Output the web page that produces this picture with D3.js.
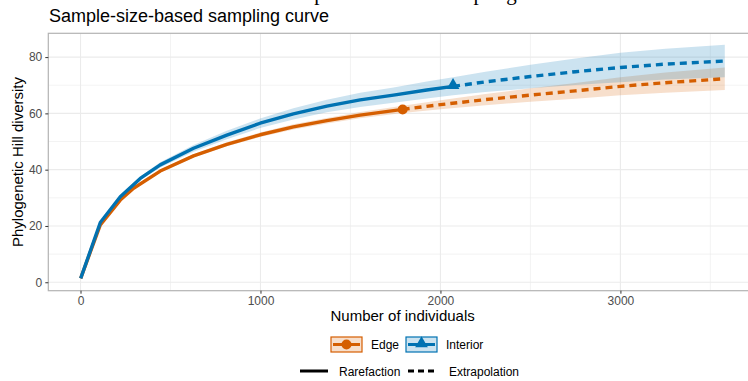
<!DOCTYPE html>
<html>
<head>
<meta charset="utf-8">
<script src="https://cdn.jsdelivr.net/npm/d3@7"></script>
<style>
  body { margin: 0; background: #fff; }
  text { font-family: "Liberation Sans", Arial, sans-serif; }
</style>
</head>
<body>
<svg id="chart" width="748" height="381"></svg>
<script>
// sample sizes and estimates
var edgeN   = [1, 110, 221, 295, 443, 628, 813, 998, 1183, 1369, 1554, 1790, 2000, 2250, 2500, 2750, 3000, 3250, 3580];
var edgeQD  = [1.4, 20.4, 29.2, 33.4, 39.5, 44.9, 49.0, 52.4, 55.2, 57.4, 59.4, 61.4, 63.1, 64.9, 66.5, 68.0, 69.6, 70.9, 72.3];
var edgeLCL = [1.4, 20.2, 28.9, 33.0, 39.0, 44.3, 48.3, 51.6, 54.3, 56.4, 58.3, 60.1, 61.5, 62.9, 64.1, 65.2, 66.4, 67.3, 68.3];
var edgeUCL = [1.4, 20.6, 29.5, 33.8, 40.0, 45.5, 49.7, 53.2, 56.1, 58.4, 60.5, 62.7, 64.7, 66.9, 68.9, 70.8, 72.8, 74.5, 76.3];
var edgeRef = 1790;

var intN   = [1, 110, 221, 332, 443, 628, 813, 998, 1183, 1369, 1554, 1739, 1924, 2070, 2250, 2500, 2750, 3000, 3250, 3580];
var intQD  = [1.4, 21.2, 30.4, 36.9, 41.7, 47.6, 52.3, 56.5, 59.8, 62.6, 64.8, 66.5, 68.3, 69.6, 71.2, 73.1, 74.8, 76.3, 77.5, 78.6];
var intLCL = [1.4, 20.9, 29.9, 36.2, 40.8, 46.4, 50.8, 54.8, 57.8, 60.4, 62.3, 63.8, 65.3, 66.4, 67.6, 68.9, 70.1, 71.1, 72.0, 72.8];
var intUCL = [1.4, 21.5, 30.9, 37.6, 42.6, 48.8, 53.8, 58.2, 61.8, 64.8, 67.3, 69.2, 71.3, 72.8, 74.8, 77.3, 79.5, 81.5, 83.0, 84.4];
var intRef = 2070;

var xTicks = [0, 1000, 2000, 3000];
var xMinor = [500, 1500, 2500, 3500];
var yTicks = [0, 20, 40, 60, 80];
var yMinor = [10, 30, 50, 70];

var groups = [
  { name: 'Edge', color: '#D55E00', shape: 'circle', n: edgeN, qd: edgeQD, lcl: edgeLCL, ucl: edgeUCL, ref: edgeRef },
  { name: 'Interior', color: '#0072B2', shape: 'triangle', n: intN, qd: intQD, lcl: intLCL, ucl: intUCL, ref: intRef }
];

var svg = d3.select('#chart');
var L = 48.3, R = 757, T = 33.3, B = 290.7;

var x = d3.scaleLinear().domain([-179, 3759]).range([L, R]);
var y = d3.scaleLinear().domain([-3, 88.45]).range([B, T]);

// cut off heading at the very top
svg.append('text').attr('x', 277).attr('y', 0)
  .style('font-family', '"Liberation Serif", serif').style('font-size', '21px').attr('fill', '#000')
  .text('Sample-size-based sampling curve');

svg.append('text').attr('x', 49).attr('y', 22)
  .style('font-size', '18px').attr('fill', '#000')
  .text('Sample-size-based sampling curve');

svg.append('defs').append('clipPath').attr('id', 'clip')
  .append('rect').attr('x', L).attr('y', T).attr('width', R - L).attr('height', B - T);

// grid
var grid = svg.append('g');
grid.selectAll('.xm').data(xMinor).enter().append('line')
  .attr('x1', d => x(d)).attr('x2', d => x(d)).attr('y1', T).attr('y2', B)
  .attr('stroke', '#ebebeb').attr('stroke-width', 0.6);
grid.selectAll('.ym').data(yMinor).enter().append('line')
  .attr('x1', L).attr('x2', R).attr('y1', d => y(d)).attr('y2', d => y(d))
  .attr('stroke', '#ebebeb').attr('stroke-width', 0.6);
grid.selectAll('.xM').data(xTicks).enter().append('line')
  .attr('x1', d => x(d)).attr('x2', d => x(d)).attr('y1', T).attr('y2', B)
  .attr('stroke', '#ebebeb').attr('stroke-width', 1.1);
grid.selectAll('.yM').data(yTicks).enter().append('line')
  .attr('x1', L).attr('x2', R).attr('y1', d => y(d)).attr('y2', d => y(d))
  .attr('stroke', '#ebebeb').attr('stroke-width', 1.1);

var plot = svg.append('g').attr('clip-path', 'url(#clip)');

var line = d3.line().x(d => x(d.n)).y(d => y(d.qd));
var area = d3.area().x(d => x(d.n)).y0(d => y(d.lcl)).y1(d => y(d.ucl));

function rows(g) {
  return g.n.map(function (v, i) { return { n: v, qd: g.qd[i], lcl: g.lcl[i], ucl: g.ucl[i] }; });
}

groups.forEach(function (g) {
  var r = rows(g);
  var rare = r.filter(d => d.n <= g.ref);
  var extra = r.filter(d => d.n >= g.ref);
  plot.append('path').datum(rare).attr('d', line).attr('fill', 'none')
    .attr('stroke', g.color).attr('stroke-width', 3.4).attr('stroke-linejoin', 'round');
  plot.append('path').datum(extra).attr('d', line).attr('fill', 'none')
    .attr('stroke', g.color).attr('stroke-width', 3.4).attr('stroke-dasharray', '7,5');
  var ref = r.filter(d => d.n === g.ref)[0];
  if (g.shape === 'circle') {
    plot.append('circle').attr('cx', x(ref.n)).attr('cy', y(ref.qd)).attr('r', 5).attr('fill', g.color);
  } else {
    plot.append('path').attr('d', d3.symbol(d3.symbolTriangle, 70)())
      .attr('transform', 'translate(' + x(ref.n) + ',' + (y(ref.qd) - 1) + ')').attr('fill', g.color);
  }
});

groups.forEach(function (g) {
  plot.append('path').datum(rows(g)).attr('d', area)
    .attr('fill', g.color).attr('fill-opacity', 0.2);
});

// panel border
svg.append('rect').attr('x', L).attr('y', T).attr('width', R - L).attr('height', B - T)
  .attr('fill', 'none').attr('stroke', '#b3b3b3').attr('stroke-width', 1.2);

// axes
var xAxis = svg.append('g').attr('transform', 'translate(0,' + B + ')')
  .call(d3.axisBottom(x).tickValues(xTicks).tickSize(3).tickPadding(3).tickFormat(d3.format('d')));
var yAxis = svg.append('g').attr('transform', 'translate(' + L + ',0)')
  .call(d3.axisLeft(y).tickValues(yTicks).tickSize(3).tickPadding(3));
[xAxis, yAxis].forEach(function (a) {
  a.select('.domain').remove();
  a.selectAll('.tick line').attr('stroke', '#333').attr('stroke-width', 1);
  a.selectAll('.tick text').attr('fill', '#4d4d4d').style('font-size', '12px')
    .style('font-family', '"Liberation Sans", Arial, sans-serif');
});

svg.append('text').attr('x', (L + R) / 2).attr('y', 321).attr('text-anchor', 'middle')
  .style('font-size', '15px').text('Number of individuals');
svg.append('text').attr('transform', 'translate(23,' + (T + B) / 2 + ') rotate(-90)')
  .attr('text-anchor', 'middle').style('font-size', '15px').text('Phylogenetic Hill diversity');

// legend
var leg = svg.append('g');
var keyX = [331, 406], textX = [371, 446];
groups.forEach(function (g, i) {
  var k = leg.append('g').attr('transform', 'translate(' + keyX[i] + ',337)');
  k.append('rect').attr('width', 31).attr('height', 15)
    .attr('fill', g.color).attr('fill-opacity', 0.2).attr('stroke', g.color).attr('stroke-width', 1.2);
  k.append('line').attr('x1', 2).attr('x2', 29).attr('y1', 7.5).attr('y2', 7.5)
    .attr('stroke', g.color).attr('stroke-width', 3);
  if (g.shape === 'circle') {
    k.append('circle').attr('cx', 15.5).attr('cy', 7.5).attr('r', 5).attr('fill', g.color);
  } else {
    k.append('path').attr('d', d3.symbol(d3.symbolTriangle, 70)())
      .attr('transform', 'translate(15.5,6.5)').attr('fill', g.color);
  }
  leg.append('text').attr('x', textX[i]).attr('y', 348.5).style('font-size', '12px').text(g.name);
});

var methods = [{ name: 'Rarefaction', dash: null, kx: 300, tx: 339 }, { name: 'Extrapolation', dash: '6,4', kx: 408, tx: 449 }];
methods.forEach(function (m) {
  leg.append('line').attr('x1', m.kx).attr('x2', m.kx + 28).attr('y1', 371).attr('y2', 371)
    .attr('stroke', '#000').attr('stroke-width', 3).attr('stroke-dasharray', m.dash);
  leg.append('text').attr('x', m.tx).attr('y', 375.5).style('font-size', '12px').text(m.name);
});
</script>
</body>
</html>
